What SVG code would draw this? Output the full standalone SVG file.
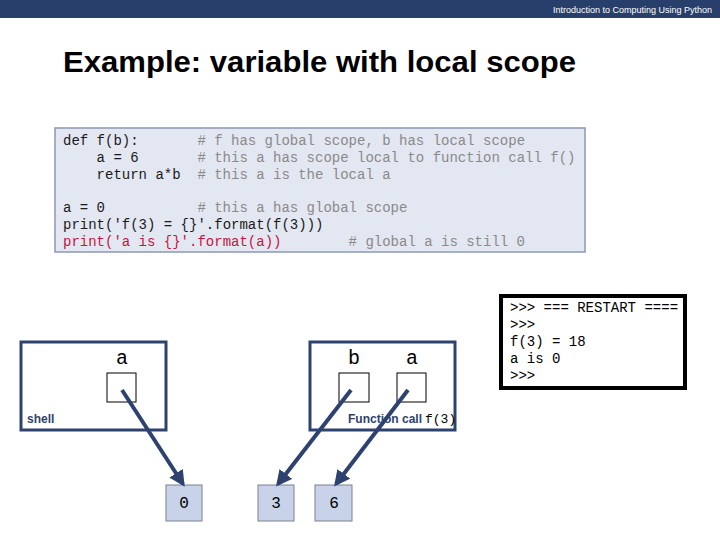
<svg xmlns="http://www.w3.org/2000/svg" width="720" height="540" viewBox="0 0 720 540">
<style>
.code{font-family:"Liberation Mono","Courier New",monospace;font-size:14px;white-space:pre}
.k{fill:#1a1a1a}
.c{fill:#8a8a8a}
.r{fill:#c4163c}
.con{font-family:"Liberation Mono","Courier New",monospace;font-size:14px;fill:#000;white-space:pre}
.frame{fill:#fff;stroke:#2e4270;stroke-width:3}
.var{fill:#fff;stroke:#000;stroke-width:1}
.lab{font-family:"Liberation Mono","Courier New",monospace;font-size:20px;fill:#000;text-anchor:middle}
.fl{font-family:"Liberation Sans",Arial,sans-serif;font-size:12px;font-weight:bold;fill:#2e4270}
.val{fill:#c8d3ea;stroke:#7a8090;stroke-width:1}
.vt{font-family:"Liberation Mono","Courier New",monospace;font-size:16px;fill:#000;text-anchor:middle}
.arr{stroke:#2e4270;stroke-width:4;fill:none;marker-end:url(#ah)}
</style>
<defs>
<marker id="ah" viewBox="0 0 10 10" refX="8" refY="5" markerWidth="4" markerHeight="4" orient="auto" markerUnits="strokeWidth">
<path d="M0,0 L10,5 L0,10 z" fill="#2e4270"/>
</marker>
</defs>
<rect width="720" height="540" fill="#fff"/>
<g id="header">
<rect x="0" y="0" width="720" height="18" fill="#293f6b"/>
<text x="712" y="13" font-family="'Liberation Sans',Arial,sans-serif" font-size="9" fill="#fff" text-anchor="end">Introduction to Computing Using Python</text>
</g>
<g id="title">
<text x="63" y="72" font-family="'Liberation Sans',Arial,sans-serif" font-size="29" font-weight="bold" fill="#000" textLength="513" lengthAdjust="spacingAndGlyphs">Example: variable with local scope</text>
</g>
<g id="code">
<rect x="55" y="128" width="530" height="124" fill="#e3e7f1" stroke="#8d98b2" stroke-width="1.5"/>
<text class="code" y="145"><tspan class="k" x="63">def f(b):</tspan><tspan class="c" x="197.4"># f has global scope, b has local scope</tspan></text>
<text class="code" y="162"><tspan class="k" x="96.6">a = 6</tspan><tspan class="c" x="197.4"># this a has scope local to function call f()</tspan></text>
<text class="code" y="179"><tspan class="k" x="96.6">return a*b</tspan><tspan class="c" x="197.4"># this a is the local a</tspan></text>
<text class="code" y="212"><tspan class="k" x="63">a = 0</tspan><tspan class="c" x="197.4"># this a has global scope</tspan></text>
<text class="code" y="229"><tspan class="k" x="63">print('f(3) = {}'.format(f(3)))</tspan></text>
<text class="code" y="246"><tspan class="r" x="63">print('a is {}'.format(a))</tspan><tspan class="c" x="348.6"># global a is still 0</tspan></text>
</g>
<g id="console">
<rect x="501" y="296" width="184" height="92" fill="#fff" stroke="#000" stroke-width="4"/>
<text class="con" x="510" y="312">&gt;&gt;&gt; === RESTART ====</text>
<text class="con" x="510" y="329">&gt;&gt;&gt;</text>
<text class="con" x="510" y="346">f(3) = 18</text>
<text class="con" x="510" y="363">a is 0</text>
<text class="con" x="510" y="380">&gt;&gt;&gt;</text>
</g>
<g id="shell">
<rect class="frame" x="21" y="342" width="145" height="88"/>
<text class="lab" x="122" y="364">a</text>
<rect class="var" x="107" y="373" width="29" height="29"/>
<text class="fl" x="27" y="423">shell</text>
</g>
<g id="fcall">
<rect class="frame" x="310" y="342" width="145" height="88"/>
<text class="lab" x="354" y="364">b</text>
<text class="lab" x="412" y="364">a</text>
<rect class="var" x="339" y="373" width="30" height="29"/>
<rect class="var" x="397" y="373" width="29" height="29"/>
<text y="423"><tspan class="fl" x="348">Function call</tspan><tspan font-family="'Liberation Mono','Courier New',monospace" font-size="13" fill="#000" dx="3">f(3)</tspan></text>
</g>
<g id="v0">
<rect class="val" x="166" y="485" width="36" height="36"/>
<text class="vt" x="184" y="508">0</text>
</g>
<g id="v3">
<rect class="val" x="258" y="485" width="36" height="36"/>
<text class="vt" x="276" y="508">3</text>
</g>
<g id="v6">
<rect class="val" x="315" y="485" width="37" height="36"/>
<text class="vt" x="334" y="508">6</text>
</g>
<g id="connectors">
<line class="arr" x1="122" y1="390" x2="183" y2="484"/>
<line class="arr" x1="351" y1="390" x2="278" y2="484"/>
<line class="arr" x1="408" y1="390" x2="336" y2="484"/>
</g>
</svg>
